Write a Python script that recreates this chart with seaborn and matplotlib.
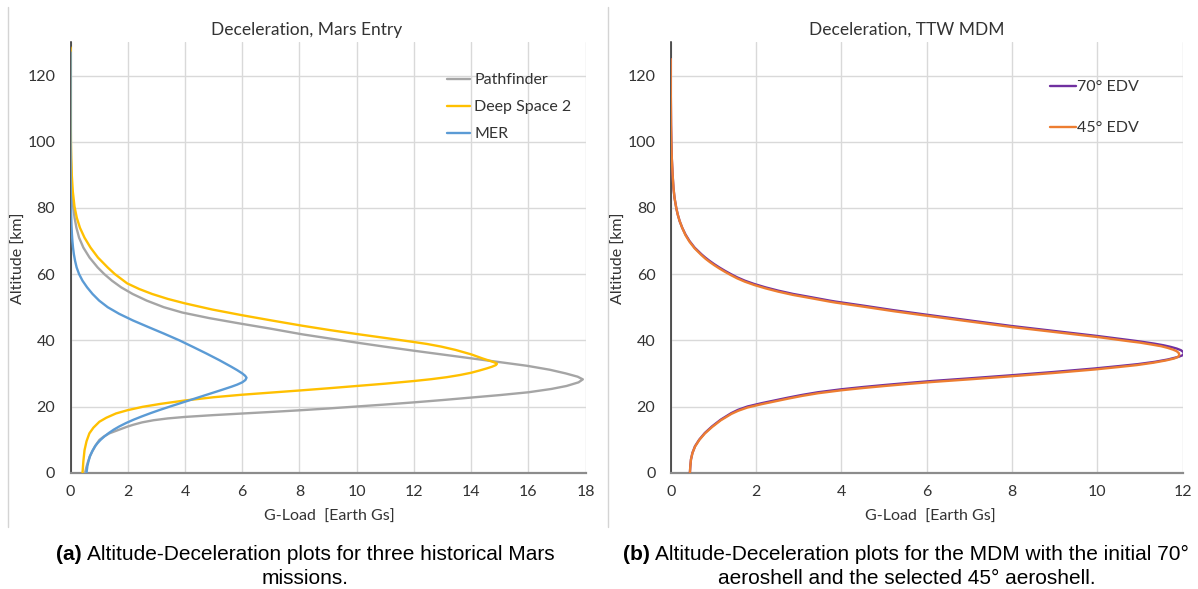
import matplotlib
matplotlib.use("Agg")
import matplotlib.pyplot as plt
from matplotlib.lines import Line2D
import pandas as pd
import seaborn as sns

# ---------------------------------------------------------------------------
# Altitude [km] versus deceleration [Earth g] for each entry vehicle
# ---------------------------------------------------------------------------
pathfinder_alt = [128, 120, 110, 100, 95, 90, 85, 80, 77, 74, 71, 68, 65, 62,
                  60, 58, 56, 54, 52, 50, 48.4, 46.7, 45.1, 43.5, 41.8, 40.55,
                  39.3, 38.05, 36.85, 35.7, 34.55, 33.4, 32.3, 31.1, 30.0, 29.0,
                  28.2, 27.3, 26.2, 25.3, 24.3, 23.45, 22.7, 21.95, 21.25, 20.6,
                  20.0, 19.4, 18.85, 18.35, 17.88, 17.4, 16.85, 16.4, 15.85,
                  15.2, 14.5, 13.9, 11.9, 10.9, 9.9, 8.3, 6.6, 4.8, 3.0, 1.5, 0]
pathfinder_g = [0.0, 0.0, 0.004, 0.008, 0.015, 0.028, 0.053, 0.098, 0.143,
                0.207, 0.3, 0.45, 0.665, 0.95, 1.18, 1.45, 1.77, 2.17, 2.66,
                3.26, 3.9, 4.85, 5.9, 7.0, 8.1, 9.05, 10.0, 11.0, 12.0, 13.0,
                14.0, 15.0, 15.95, 16.75, 17.3, 17.72, 17.9, 17.75, 17.33, 16.8,
                16.0, 15.0, 14.0, 13.0, 12.0, 11.0, 10.0, 9.0, 8.0, 7.0, 6.0,
                5.0, 4.0, 3.4, 2.9, 2.5, 2.2, 1.98, 1.36, 1.16, 1.01, 0.88, 0.77,
                0.67, 0.6, 0.55, 0.51]

ds2_alt = [128.5, 120, 110, 100, 95, 90, 85, 80.4, 77, 74, 71, 68, 65, 62, 60,
           58.5, 57.2, 55.5, 54, 52.5, 51.2, 49.3, 47.6, 46, 44.4, 43.1, 41.9,
           40.7, 39.6, 38.9, 38.1, 37.1, 35.75, 34.5, 33.8, 33.3, 32.9, 32.5,
           32.0, 31.5, 30.9, 30.2, 29.5, 28.85, 28.25, 27.7, 26.9, 26.2, 25.5,
           24.85, 24.2, 23.55, 22.8, 21.8, 20.8, 19.9, 18.9, 17.9, 16.6, 15.4,
           13.6, 11.9, 9.5, 6.8, 3.5, 0]
ds2_g = [0.0, 0.0, 0.006, 0.014, 0.025, 0.045, 0.08, 0.14, 0.22, 0.33, 0.49,
         0.7, 0.96, 1.3, 1.55, 1.78, 1.98, 2.4, 2.85, 3.4, 3.98, 4.95, 5.98,
         7.02, 8.1, 9.05, 10.0, 11.0, 11.9, 12.45, 12.95, 13.45, 14.0, 14.4,
         14.65, 14.82, 14.9, 14.86, 14.72, 14.54, 14.3, 14.0, 13.6, 13.14, 12.6,
         12.0, 11.0, 10.0, 9.0, 8.02, 7.0, 5.98, 5.0, 3.98, 3.15, 2.52, 2.0,
         1.59, 1.25, 1.01, 0.8, 0.66, 0.56, 0.49, 0.45, 0.42]

mer_alt = [127, 100, 90, 85, 80, 75, 72, 70, 68, 66, 64, 62, 60, 58, 56, 54,
           52, 50, 48, 46, 44, 42, 40, 38, 36, 34, 32, 31, 30, 29.3, 28.7,
           28.0, 27.3, 26.6, 26.0, 25.0, 24.0, 23.0, 22.0, 21.0, 20.0, 19.0,
           18.0, 17.0, 16.0, 15.0, 14.0, 13.0, 12.0, 11.0, 10.0, 9.0, 8.0, 6.5,
           5.0, 3.5, 2.0, 0]
mer_g = [0.0, 0.0, 0.004, 0.008, 0.016, 0.032, 0.05, 0.066, 0.088, 0.118,
         0.16, 0.215, 0.3, 0.42, 0.58, 0.77, 1.0, 1.3, 1.7, 2.18, 2.72, 3.27,
         3.8, 4.28, 4.75, 5.2, 5.62, 5.82, 6.0, 6.1, 6.15, 6.11, 6.0, 5.82,
         5.63, 5.28, 4.92, 4.56, 4.2, 3.84, 3.48, 3.13, 2.8, 2.49, 2.2, 1.94,
         1.71, 1.51, 1.34, 1.19, 1.06, 0.95, 0.86, 0.76, 0.68, 0.63, 0.59,
         0.56]

edv70_alt = [125, 115, 105, 100, 95, 90, 86, 83, 80, 78, 76, 74, 72, 70, 68,
             66, 65, 64, 63, 62, 61, 60, 59, 58, 57, 56, 55, 54, 53, 52, 51.7,
             50.4, 49.1, 47.9, 46.0, 44.3, 42.8, 41.3, 40.0, 39.6, 39.0, 38.5,
             38.0, 37.5, 37.0, 36.5, 36.05, 35.5, 35.0, 34.2, 33.5, 32.8, 32.2,
             31.5, 30.4, 29.4, 28.5, 27.7, 27.1, 26.5, 25.9, 25.2, 24.3, 23.5,
             22.7, 22.0, 21.0, 20.0, 19.0, 18.0, 16.0, 14.0, 12.0, 10.0, 8.0,
             6.0, 4.0, 2.0, 0]
edv70_g = [0.0, 0.002, 0.008, 0.015, 0.026, 0.045, 0.065, 0.09, 0.13, 0.165,
           0.21, 0.27, 0.345, 0.44, 0.56, 0.72, 0.81, 0.91, 1.02, 1.14, 1.27,
           1.41, 1.56, 1.74, 1.96, 2.22, 2.52, 2.87, 3.3, 3.72, 3.86, 4.55,
           5.22, 5.9, 7.0, 8.0, 9.0, 10.0, 10.79, 11.02, 11.33, 11.55, 11.72,
           11.86, 11.96, 12.01, 12.03, 12.0, 11.9, 11.65, 11.35, 10.95, 10.5,
           9.95, 8.95, 7.95, 7.0, 6.12, 5.55, 5.02, 4.52, 4.0, 3.45, 3.08, 2.76,
           2.5, 2.13, 1.8, 1.58, 1.42, 1.17, 0.97, 0.8, 0.67, 0.57, 0.51, 0.475,
           0.46, 0.45]

edv45_alt = [125, 115, 105, 100, 95, 90, 86, 83, 80, 78, 76, 74, 71.8, 69.8,
             67.8, 65.75, 64.7, 63.7, 62.7, 61.7, 60.7, 59.7, 58.7, 57.7, 56.7,
             55.7, 54.7, 53.7, 52.7, 51.7, 51.4, 50.1, 48.8, 47.6, 45.7, 44.0,
             42.5, 41.0, 39.7, 39.3, 38.7, 38.2, 37.7, 37.2, 36.7, 36.1, 35.5,
             35.0, 34.5, 33.9, 33.2, 32.5, 31.9, 31.2, 30.1, 29.1, 28.2, 27.4,
             26.8, 26.2, 25.6, 24.9, 24.0, 23.2, 22.4, 21.7, 20.7, 19.7, 18.7,
             17.75, 15.8, 13.8, 11.85, 9.9, 7.9, 5.95, 4.0, 2.0, 0]
edv45_g = [0.0, 0.002, 0.008, 0.015, 0.026, 0.045, 0.065, 0.09, 0.13, 0.165,
           0.21, 0.27, 0.345, 0.44, 0.56, 0.72, 0.81, 0.91, 1.02, 1.14, 1.27,
           1.41, 1.56, 1.74, 1.96, 2.22, 2.52, 2.87, 3.3, 3.72, 3.86, 4.55,
           5.22, 5.9, 7.0, 8.0, 9.0, 10.0, 10.75, 11.0, 11.28, 11.5, 11.65,
           11.77, 11.86, 11.91, 11.92, 11.89, 11.8, 11.6, 11.3, 10.92, 10.48,
           9.95, 8.95, 7.95, 7.0, 6.12, 5.55, 5.02, 4.52, 4.0, 3.45, 3.08, 2.76,
           2.5, 2.13, 1.8, 1.58, 1.42, 1.17, 0.97, 0.8, 0.67, 0.57, 0.51, 0.475,
           0.46, 0.45]

left_series = ["Pathfinder", "Deep Space 2", "MER"]
right_series = ["70° EDV", "45° EDV"]
left_colors = ["#A5A5A5", "#FFC000", "#5B9BD5"]
right_colors = ["#7030A0", "#ED7D31"]

alt_ticks = [0, 20, 40, 60, 80, 100, 120]
left_g_ticks = [0, 2, 4, 6, 8, 10, 12, 14, 16, 18]
right_g_ticks = [0, 2, 4, 6, 8, 10, 12]


def frame(names, alts, gs):
    parts = []
    for name, a, g in zip(names, alts, gs):
        parts.append(pd.DataFrame({"alt": a, "g": g, "vehicle": name}))
    return pd.concat(parts, ignore_index=True)


left_df = frame(left_series, [pathfinder_alt, ds2_alt, mer_alt],
                [pathfinder_g, ds2_g, mer_g])
right_df = frame(right_series, [edv70_alt, edv45_alt], [edv70_g, edv45_g])

sns.set_theme(style="white")
plt.rcParams["font.family"] = ["Lato", "DejaVu Sans"]

W, H = 1198, 589
fig = plt.figure(figsize=(W / 100, H / 100), dpi=100)
fig.patch.set_facecolor("white")

TEXT = "#333333"
FS = 11.5


def px(x, y):
    return x / W, 1 - y / H


ax1 = fig.add_axes([70.5 / W, 1 - 472.7 / H, 515.2 / W, 430.3 / H])
ax2 = fig.add_axes([670.7 / W, 1 - 472.7 / H, 512.0 / W, 430.3 / H])

panels = [
    (ax1, left_df, left_series, left_colors, left_g_ticks, 18),
    (ax2, right_df, right_series, right_colors, right_g_ticks, 12),
]

for ax, df, names, colors, gt, gmax in panels:
    sns.lineplot(data=df, x="g", y="alt", hue="vehicle", hue_order=names,
                 palette=colors, sort=False, estimator=None, lw=1.7, ax=ax,
                 zorder=3)
    for ln in ax.get_lines():
        ln.set_solid_joinstyle("round")
    ax.set_xlim(0, gmax)
    ax.set_ylim(0, 130)
    ax.set_xticks(gt)
    ax.set_yticks(alt_ticks)
    ax.grid(True, color="#D9D9D9", lw=1.0)
    ax.set_axisbelow(True)
    for s in ("top", "right"):
        ax.spines[s].set_visible(False)
    ax.spines["left"].set_color("#262626")
    ax.spines["left"].set_linewidth(1.1)
    ax.spines["bottom"].set_color("#8C8C8C")
    ax.spines["bottom"].set_linewidth(1.6)
    ax.tick_params(axis="both", length=0, labelsize=FS, colors=TEXT)
    ax.tick_params(axis="y", pad=11)
    ax.tick_params(axis="x", pad=9)
    ax.set_xlabel("")
    ax.set_ylabel("")
    ax.get_legend().remove()

# Legends
h1, l1 = ax1.get_legend_handles_labels()
ax1.legend(h1, l1, loc="upper left", bbox_to_anchor=px(447, 73),
           bbox_transform=fig.transFigure, frameon=False, fontsize=FS,
           handlelength=1.45, handletextpad=0.25, labelspacing=0.8,
           borderpad=0, borderaxespad=0, labelcolor=TEXT)
h2, l2 = ax2.get_legend_handles_labels()
ax2.legend(h2, l2, loc="upper left", bbox_to_anchor=px(1050, 80),
           bbox_transform=fig.transFigure, frameon=False, fontsize=FS,
           handlelength=1.6, handletextpad=0.12, labelspacing=1.68,
           borderpad=0, borderaxespad=0, labelcolor=TEXT)

# Chart titles and axis labels
fig.text(*px(307, 30), "Deceleration, Mars Entry", ha="center", va="center",
         fontsize=12.5, color=TEXT)
fig.text(*px(907, 30), "Deceleration, TTW MDM", ha="center", va="center",
         fontsize=12.5, color=TEXT)
for cx in (329, 930):
    fig.text(*px(cx, 517), "G-Load  [Earth Gs]", ha="center", va="center",
             fontsize=FS, color=TEXT)
for cx in (19, 619):
    fig.text(*px(cx, 258), "Altitude [km]", ha="center", va="center",
             rotation=90, fontsize=FS, color=TEXT)

# Chart-area borders
for bx in (7.5, 607.5):
    fig.add_artist(Line2D([bx / W, bx / W], [1 - 7 / H, 1 - 527 / H],
                          transform=fig.transFigure, color="#D4D4D4", lw=1.0))

# Sub-figure captions: bold tag followed by regular text
CAP = ["Liberation Sans", "DejaVu Sans"]
CFS = 15
renderer = fig.canvas.get_renderer()


def caption_line(cx, cy, tag, rest):
    t1 = fig.text(0, 0, tag + " ", fontsize=CFS, family=CAP, weight="bold",
                  ha="left", va="center", color="black")
    t2 = fig.text(0, 0, rest, fontsize=CFS, family=CAP, ha="left",
                  va="center", color="black")
    w1 = t1.get_window_extent(renderer).width
    w2 = t2.get_window_extent(renderer).width
    x0 = cx - (w1 + w2) / 2
    t1.set_position(px(x0, cy))
    t2.set_position(px(x0 + w1, cy))


caption_line(305, 554, "(a)",
             "Altitude-Deceleration plots for three historical Mars")
fig.text(*px(305, 578), "missions.", fontsize=CFS, family=CAP, ha="center",
         va="center", color="black")
caption_line(906, 554, "(b)",
             "Altitude-Deceleration plots for the MDM with the initial 70°")
fig.text(*px(907, 578), "aeroshell and the selected 45° aeroshell.",
         fontsize=CFS, family=CAP, ha="center", va="center", color="black")

fig.savefig("out.png", dpi=100, facecolor="white")
